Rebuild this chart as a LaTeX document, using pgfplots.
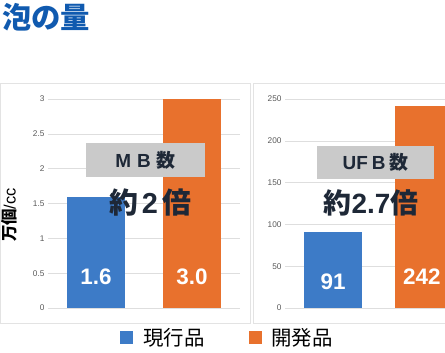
\documentclass[border=0pt]{standalone}
\usepackage{pgfplots}
\pgfplotsset{compat=1.18}
\usepackage{fontspec}
\setmainfont{Liberation Sans}
\newfontfamily\cjk{Noto Sans CJK JP}
\definecolor{barblue}{RGB}{61,123,199}
\definecolor{barorange}{RGB}{232,113,45}
\definecolor{titleblue}{RGB}{16,90,175}
\definecolor{darktxt}{RGB}{30,40,55}
\definecolor{boxgray}{RGB}{202,202,202}
\definecolor{gridgray}{RGB}{222,222,222}
\pgfplotsset{
  mystyle/.style={
    scale only axis, width=192bp, height=209bp,
    ymin=0, xmin=0, xmax=4,
    axis line style={draw=none},
    ymajorgrids, grid style={draw=gridgray, line width=0.6pt},
    xtick=\empty, major tick style={draw=none},
    yticklabel style={font=\fontsize{8.3}{10}\selectfont, text=black!65},
    /pgf/number format/assume math mode=true,
    ybar, bar width=58bp, bar shift=0pt,
    clip=false,
    legend image code/.code={\fill[##1] (0bp,-6.5bp) rectangle (13bp,6.5bp);},
  }
}
\begin{document}
\begin{tikzpicture}
\useasboundingbox (0,0) rectangle (445bp,-353bp);
\clip (0,0) rectangle (445bp,-353bp);
\begin{scope}[x=1bp,y=-1bp]
  \draw[gray!22, line width=0.6pt] (0.5,83) rectangle (250,323);
  \draw[gray!22, line width=0.6pt] (253,83) rectangle (460,323);
  \node[anchor=west, text=titleblue, font=\cjk\bfseries\fontsize{29.5}{32}\selectfont, inner sep=0] at (2,17) {泡の量};
  \node[rotate=90, font=\fontsize{16.5}{18}\selectfont] at (9.5,215) {{\cjk\bfseries 万個}/cc};
\end{scope}

\begin{axis}[mystyle, at={(48bp,-308bp)}, anchor=south west,
  ymax=3, ytick={0,0.5,1,1.5,2,2.5,3},
  legend style={at={(0.935,-0.1435)}, anchor=center, draw=none, fill=none,
    legend columns=2, font=\cjk\fontsize{20.5}{22}\selectfont,
    /tikz/every odd column/.append style={column sep=8bp},
    /tikz/every even column/.append style={column sep=42bp}},
]
\addplot[fill=barblue, draw=none] coordinates {(1,1.6)};
\addplot[fill=barorange, draw=none] coordinates {(3,3.0)};
\legend{現行品,開発品}
\node[text=white, font=\bfseries\fontsize{22.5}{25}\selectfont] at (axis cs:1,0.445) {1.6};
\node[text=white, font=\bfseries\fontsize{22.5}{25}\selectfont] at (axis cs:3,0.445) {3.0};
\end{axis}

\begin{axis}[mystyle, at={(285bp,-308bp)}, anchor=south west,
  ymax=250, ytick={0,50,100,150,200,250},
]
\addplot[fill=barblue, draw=none] coordinates {(1,91)};
\addplot[fill=barorange, draw=none] coordinates {(2.9,242)};
\node[text=white, font=\bfseries\fontsize{22.5}{25}\selectfont] at (axis cs:1,31) {91};
\node[text=white, font=\bfseries\fontsize{22.5}{25}\selectfont] at (axis cs:2.85,37) {242};
\end{axis}

\begin{scope}[x=1bp,y=-1bp]
  \node[fill=boxgray, minimum width=119bp, minimum height=34bp, inner sep=0, text=darktxt,
    font=\bfseries\fontsize{19}{22}\selectfont] at (145.5,160) {M\hspace{6bp}B\hspace{6bp}{\cjk\bfseries 数}};
  \node[text=darktxt, font=\bfseries\fontsize{29}{32}\selectfont] at (150,203) {{\cjk\bfseries 約}\hspace{4bp}2\hspace{4bp}{\cjk\bfseries 倍}};
  \node[fill=boxgray, minimum width=117bp, minimum height=33bp, inner sep=0, text=darktxt,
    font=\bfseries\fontsize{19}{22}\selectfont] at (375.5,162.5) {UF\hspace{4bp}B\hspace{4bp}{\cjk\bfseries 数}};
  \node[text=darktxt, font=\bfseries\fontsize{28}{31}\selectfont] at (371,203) {{\cjk\bfseries 約}2.7{\cjk\bfseries 倍}};
\end{scope}
\end{tikzpicture}
\end{document}
